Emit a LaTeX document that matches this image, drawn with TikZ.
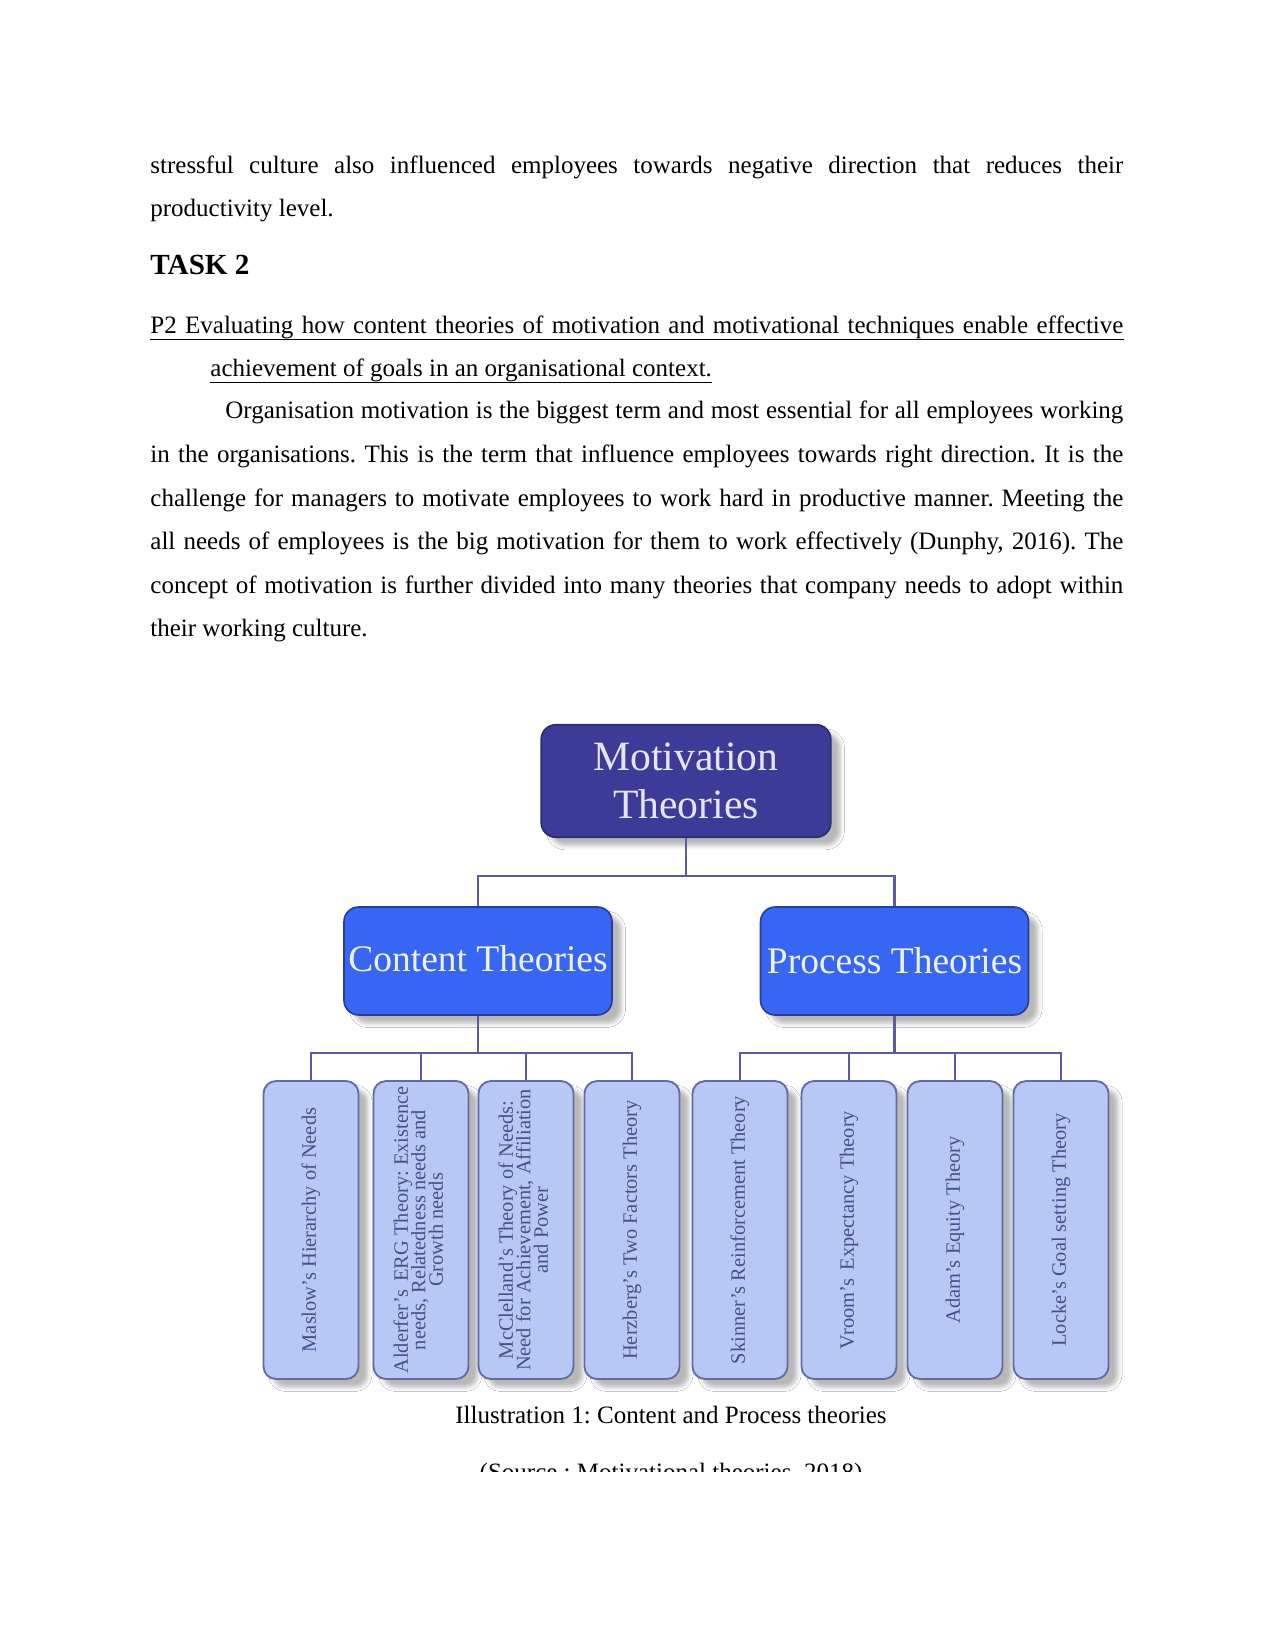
\documentclass[tikz,border=0pt]{standalone}
\usepackage{fontspec}
\setmainfont{Liberation Serif}
\usetikzlibrary{shadows.blur,calc}
\definecolor{topfill}{RGB}{60,60,152}
\definecolor{topdraw}{RGB}{44,44,120}
\definecolor{midfill}{RGB}{55,102,242}
\definecolor{middraw}{RGB}{40,60,160}
\definecolor{leaffill}{RGB}{184,200,244}
\definecolor{leafdraw}{RGB}{100,108,168}
\definecolor{leaftext}{RGB}{72,78,140}
\definecolor{connc}{RGB}{92,92,160}
\frenchspacing
\begin{document}
\begin{tikzpicture}[x=0.48pt,y=-0.48pt,
  txt/.style={anchor=base west,inner sep=0pt,font=\fontsize{12}{14}\selectfont},
  conn/.style={draw=connc,line width=1pt},
  shad/.style={blur shadow={shadow xshift=4.5pt,shadow yshift=-4pt,shadow opacity=28,shadow blur radius=2pt}},
  topbox/.style={shad,rounded corners=7pt,fill=topfill,draw=topdraw,line width=0.8pt,
    minimum width=139pt,minimum height=54pt,inner sep=0pt,text=white!90!blue,
    font=\fontsize{20}{23}\selectfont,align=center},
  midbox/.style={shad,rounded corners=7pt,fill=midfill,draw=middraw,line width=0.8pt,
    minimum width=128.6pt,minimum height=51.8pt,inner sep=0pt,text=white!94!blue,
    font=\fontsize{18}{21}\selectfont,align=center},
  leaf/.style={shad,rounded corners=6pt,fill=leaffill,draw=leafdraw,line width=0.9pt,
    minimum width=45.6pt,minimum height=143pt,inner sep=0pt,text=leaftext,
    font=\fontsize{9.8}{10.6}\selectfont}
]
\useasboundingbox[fill=white] (0,0) rectangle (1275,1650);

% body text
\node[txt] (t1) at (150,174) {\makebox[467pt][s]{stressful culture also influenced employees towards negative direction that reduces their}};
\node[txt] (t2) at (150,217) {productivity level.};
\node[txt,font=\fontsize{14}{16}\selectfont\bfseries] (task) at (150,275) {TASK 2};
\node[txt] (p2a) at (150,334) {\makebox[467pt][s]{P2 Evaluating how content theories of motivation and motivational techniques enable effective}};
\node[txt] (p2b) at (210,377) {achievement of goals in an organisational context.};
\draw[line width=0.5pt] ([yshift=-2.6pt]p2a.base west) -- ([yshift=-2.6pt]p2a.base east);
\draw[line width=0.5pt] ([yshift=-2.6pt]p2b.base west) -- ([yshift=-2.6pt]p2b.base east);
\node[txt] (b1) at (225,419) {\makebox[431pt][s]{Organisation motivation is the biggest term and most essential for all employees working}};
\node[txt] (b2) at (150,462.5) {\makebox[467pt][s]{in the organisations. This is the term that influence employees towards right direction. It is the}};
\node[txt] (b3) at (150,506) {\makebox[467pt][s]{challenge for managers to motivate employees to work hard in productive manner. Meeting the}};
\node[txt] (b4) at (150,549.5) {\makebox[467pt][s]{all needs of employees is the big motivation for them to work effectively (Dunphy, 2016). The}};
\node[txt] (b5) at (150,593) {\makebox[467pt][s]{concept of motivation is further divided into many theories that company needs to adopt within}};
\node[txt] (b6) at (150,636) {their working culture.};

% diagram
\node[topbox] (mt) at (686,781) {Motivation\\Theories};
\node[midbox] (ct) at (478,961) {\raisebox{2pt}{Content Theories}};
\node[midbox] (pt) at (894.5,961) {\raisebox{-1pt}{Process Theories}};

\node[leaf] (l1) at (311,1230) {\rotatebox{90}{Maslow's Hierarchy of Needs}};
\node[leaf] (l2) at (421,1230) {\rotatebox{90}{\begin{tabular}{@{}c@{}}Alderfer's\, ERG Theory: Existence\\[-2.2pt] needs, Relatedness needs and\\[-2.2pt] Growth needs\end{tabular}}};
\node[leaf] (l3) at (526,1230) {\rotatebox{90}{\begin{tabular}{@{}c@{}}McClelland's Theory of Needs:\\[-2.2pt] Need for Achievement, Affiliation\\[-2.2pt] and Power\end{tabular}}};
\node[leaf] (l4) at (632,1230) {\rotatebox{90}{Herzberg's Two Factors Theory}};
\node[leaf] (l5) at (740,1230) {\rotatebox{90}{Skinner's Reinforcement Theory}};
\node[leaf] (l6) at (849,1230) {\rotatebox{90}{Vroom's\, Expectancy Theory}};
\node[leaf] (l7) at (955,1230) {\rotatebox{90}{Adam's Equity Theory}};
\node[leaf] (l8) at (1061,1230) {\rotatebox{90}{Locke's Goal setting Theory}};

\draw[conn] (mt.south) -- ++(0,38) coordinate (j0);
\draw[conn] (ct.north) |- (j0) -| (pt.north);
\draw[conn] (ct.south) -- ++(0,37) coordinate (j1);
\draw[conn] (l1.north) |- (j1) -| (l4.north);
\draw[conn] (l2.north) -- (l2.north |- j1);
\draw[conn] (l3.north) -- (l3.north |- j1);
\draw[conn] (pt.south) -- ++(0,37) coordinate (j2);
\draw[conn] (l5.north) |- (j2) -| (l8.north);
\draw[conn] (l6.north) -- (l6.north |- j2);
\draw[conn] (l7.north) -- (l7.north |- j2);

% caption
\node[anchor=base,inner sep=0pt,font=\fontsize{12}{14}\selectfont] (cap) at (671,1423) {Illustration 1: Content and Process theories};
\begin{scope}
\clip (0,0) rectangle (1275,1471);
\node[anchor=base,inner sep=0pt,font=\fontsize{12}{14}\selectfont] (src) at (671,1480) {(Source : Motivational theories, 2018)};
\end{scope}
\end{tikzpicture}
\end{document}
